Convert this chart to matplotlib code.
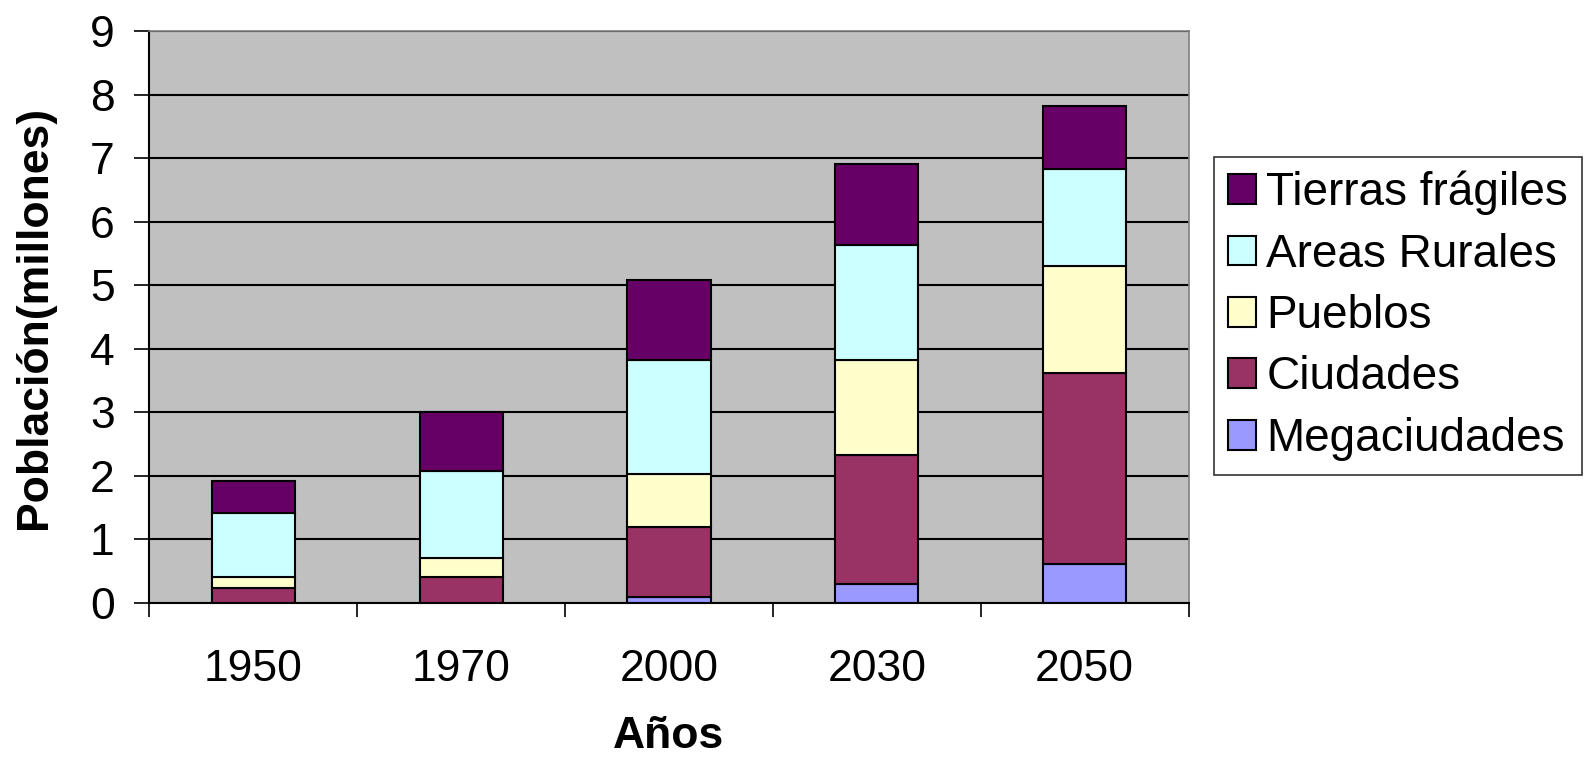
import numpy as np
import matplotlib.pyplot as plt

plt.rcParams['font.family'] = ['Liberation Sans', 'DejaVu Sans']

# population by type of settlement (millions), one value per year
years = ['1950', '1970', '2000', '2030', '2050']
megaciudades = [0.0, 0.0, 0.09, 0.30, 0.61]
ciudades = [0.23, 0.40, 1.10, 2.02, 3.01]
pueblos = [0.17, 0.31, 0.83, 1.51, 1.68]
rurales = [1.02, 1.37, 1.81, 1.80, 1.53]
fragiles = [0.49, 0.92, 1.26, 1.28, 1.00]

series = [
    ('Megaciudades', megaciudades, '#9999FF'),
    ('Ciudades', ciudades, '#993366'),
    ('Pueblos', pueblos, '#FFFFCC'),
    ('Areas Rurales', rurales, '#CCFFFF'),
    ('Tierras frágiles', fragiles, '#660066'),
]

fs = 32

fig = plt.figure(figsize=(15.89, 7.62), dpi=100)
ax = fig.add_axes([0.094, 0.209, 0.654, 0.750])
ax.set_facecolor('#C0C0C0')

x = np.arange(len(years))
bottom = np.zeros(len(years))
handles = []
for name, vals, col in series:
    b = ax.bar(x, vals, 0.4, bottom=bottom, color=col, edgecolor='black',
               linewidth=1.5, label=name, zorder=3)
    handles.append(b)
    bottom += np.array(vals)

ax.set_xlim(-0.5, len(years) - 0.5)
ax.set_ylim(0, 9)
ax.set_yticks(range(10))
ax.yaxis.grid(True, color='black', linewidth=1.5, zorder=1)
ax.set_axisbelow(True)

# tick marks sit between the categories, labels at the centres
ax.set_xticks(np.arange(-0.5, len(years)), minor=False)
ax.set_xticklabels([])
ax.set_xticks(x, minor=True)
ax.set_xticklabels(years, minor=True)
ax.tick_params(axis='x', which='major', length=10, width=1.2, direction='out')
ax.tick_params(axis='x', which='minor', length=0, pad=33, labelsize=fs)
ax.tick_params(axis='y', length=11, width=1.2, direction='out', pad=14, labelsize=fs)

for s in ['top', 'right']:
    ax.spines[s].set_color('#808080')
    ax.spines[s].set_linewidth(1.2)
for s in ['left', 'bottom']:
    ax.spines[s].set_color('black')
    ax.spines[s].set_linewidth(1.5)

ax.set_ylabel('Población(millones)', fontsize=fs, fontweight='bold', labelpad=25)
ax.set_xlabel('Años', fontsize=fs, fontweight='bold', labelpad=19)

leg = fig.legend(handles[::-1], [s[0] for s in series][::-1], loc='upper left',
                 bbox_to_anchor=(0.764, 0.794), fontsize=33, frameon=True,
                 fancybox=False, edgecolor='black', handlelength=0.62,
                 handleheight=0.62, handletextpad=0.22, labelspacing=0.38,
                 borderpad=0.3, borderaxespad=0)
leg.get_frame().set_linewidth(1.2)

fig.savefig('out.png', dpi=100)
